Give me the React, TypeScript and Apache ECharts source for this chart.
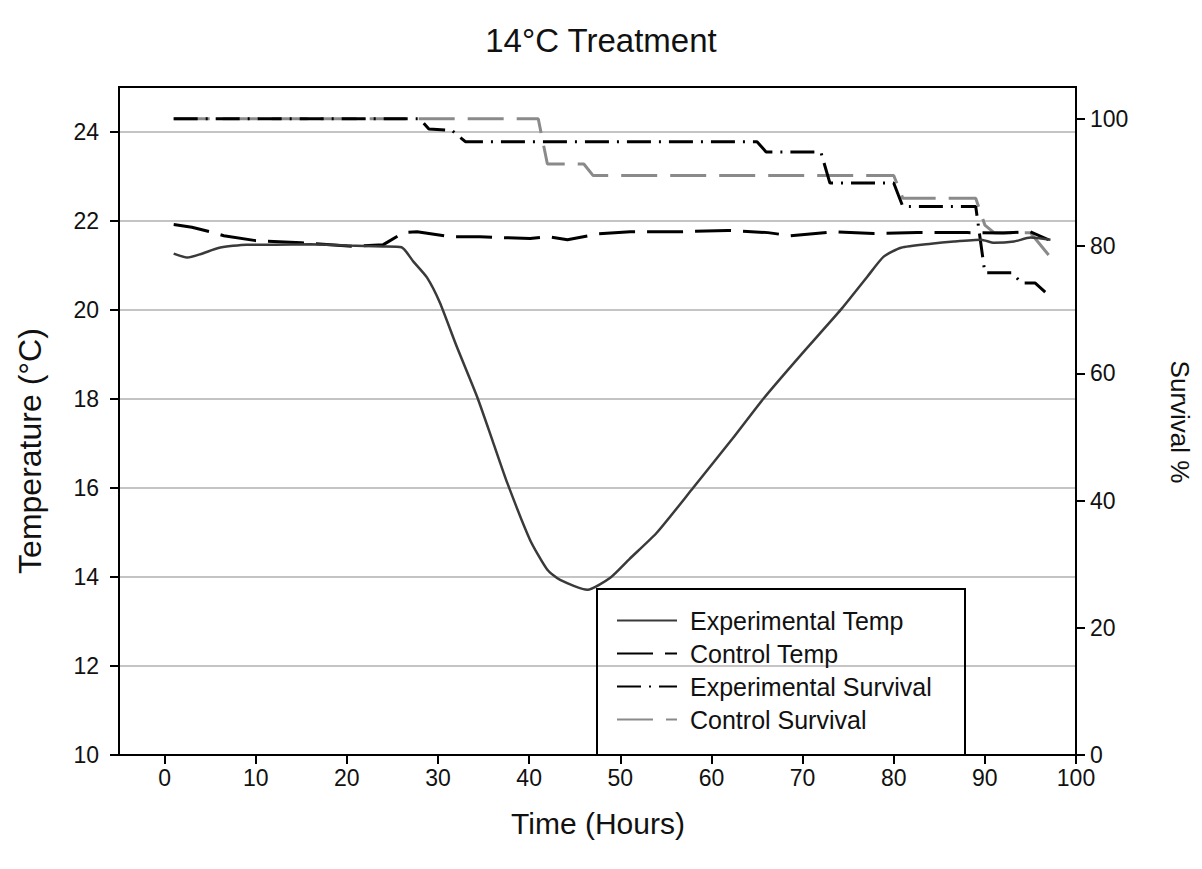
import React, { useEffect, useRef } from "react";
import * as echarts from "echarts";

const expTempTime = [1, 2.5, 4, 6, 9, 12, 16, 20, 24, 26, 27.3, 28.8, 30.2, 32, 34.3, 36, 37.6, 40.1, 42, 43.4, 46.4, 48.9, 51, 54, 58, 62.3, 65.7, 69.8, 74.2, 77.1, 78.9, 80.8, 84.1, 86.6, 89.6, 91, 93.2, 95, 97.2];
const expTempValue = [21.26, 21.17, 21.25, 21.39, 21.46, 21.46, 21.47, 21.44, 21.42, 21.4, 21.08, 20.72, 20.16, 19.2, 18.04, 17.05, 16.11, 14.83, 14.16, 13.93, 13.71, 13.98, 14.4, 14.99, 16.0, 17.1, 18.0, 18.98, 20.0, 20.74, 21.19, 21.39, 21.48, 21.53, 21.57, 21.5, 21.53, 21.62, 21.57];

const ctlTempTime = [1, 3, 5, 6.5, 10, 15, 20.7, 24, 26.2, 27.7, 31.3, 34.6, 36.5, 40.1, 42, 44.2, 47.5, 51.1, 56.6, 61.8, 66.2, 68.7, 73.4, 77.8, 82.6, 88.1, 92, 95, 97];
const ctlTempValue = [21.91, 21.85, 21.75, 21.66, 21.55, 21.5, 21.42, 21.46, 21.73, 21.75, 21.64, 21.64, 21.62, 21.6, 21.64, 21.57, 21.7, 21.75, 21.75, 21.78, 21.73, 21.66, 21.75, 21.71, 21.73, 21.73, 21.72, 21.75, 21.57];

const expSurvTime = [1, 28, 29, 31.5, 33, 65, 66, 72, 73, 80, 81, 89, 90, 93, 94, 95.5, 97];
const expSurvValue = [100, 100, 98.4, 98.2, 96.4, 96.4, 94.8, 94.8, 89.9, 89.9, 86.2, 86.2, 75.8, 75.8, 74.2, 74.2, 72.3];

const ctlSurvTime = [1, 41, 42, 46, 47, 80, 81, 89, 90, 91, 95, 97];
const ctlSurvValue = [100, 100, 92.9, 92.9, 91.1, 91.1, 87.5, 87.5, 83.3, 82.1, 82.1, 78.6];

const xTicks = [0, 10, 20, 30, 40, 50, 60, 70, 80, 90, 100];
const tempTicks = [10, 12, 14, 16, 18, 20, 22, 24];
const survTicks = [0, 20, 40, 60, 80, 100];

const zip = (t: number[], v: number[]) => t.map((x, i) => [x, v[i]]);

const FONT = "Liberation Sans, Arial, sans-serif";

export default function App() {
  const ref = useRef<HTMLDivElement>(null);
  useEffect(() => {
    if (!ref.current) return;
    const chart = echarts.init(ref.current, undefined, { renderer: "svg" });
    const axisLine = { show: true, onZero: false, lineStyle: { color: "#000", width: 2 } };
    const axisTick = { show: true, length: 9, lineStyle: { color: "#000", width: 2 } };
    const labelStyle = { color: "#111", fontSize: 23, fontFamily: FONT };
    chart.setOption({
      animation: false,
      backgroundColor: "#fff",
      title: {
        text: "14°C Treatment",
        left: "center",
        top: 24,
        padding: 0,
        textStyle: { fontSize: 33, fontWeight: "normal", color: "#111", fontFamily: FONT },
      },
      grid: {
        left: 119,
        right: 126,
        top: 87,
        bottom: 114,
        show: true,
        borderColor: "#000",
        borderWidth: 2,
        backgroundColor: "transparent",
      },
      legend: {
        orient: "vertical",
        left: 611,
        top: 603,
        itemWidth: 60,
        itemHeight: 16,
        itemGap: 8,
        itemStyle: { opacity: 0 },
        textStyle: { fontSize: 25, lineHeight: 25, color: "#111", fontFamily: FONT, padding: [0, 0, 0, 8] },
        data: ["Experimental Temp", "Control Temp", "Experimental Survival", "Control Survival"],
      },
      xAxis: {
        type: "value",
        min: -5,
        max: 100,
        axisLine,
        axisTick: { ...axisTick, customValues: xTicks },
        axisLabel: { ...labelStyle, margin: 11, customValues: xTicks },
        splitLine: { show: false },
      },
      yAxis: [
        {
          type: "value",
          min: 10,
          max: 25,
          interval: 2,
          position: "left",
          axisLine,
          axisTick: { ...axisTick, customValues: tempTicks },
          axisLabel: { ...labelStyle, margin: 20, customValues: tempTicks },
          splitLine: { show: true, lineStyle: { color: "#c4c4c4", width: 2 } },
        },
        {
          type: "value",
          min: 0,
          max: 105,
          interval: 20,
          position: "right",
          axisLine,
          axisTick: { ...axisTick, customValues: survTicks },
          axisLabel: { ...labelStyle, margin: 14, customValues: survTicks },
          splitLine: { show: false },
        },
      ],
      series: [
        {
          name: "Experimental Temp",
          type: "line",
          yAxisIndex: 0,
          symbol: "none",
          smooth: 0.2,
          data: zip(expTempTime, expTempValue),
          lineStyle: { color: "#3a3a3a", width: 2.5 },
          itemStyle: { color: "#3a3a3a" },
          z: 4,
        },
        {
          name: "Control Temp",
          type: "line",
          yAxisIndex: 0,
          symbol: "none",
          data: zip(ctlTempTime, ctlTempValue),
          lineStyle: { color: "#000", width: 3, type: [36, 12] },
          itemStyle: { color: "#000" },
          z: 3,
        },
        {
          name: "Experimental Survival",
          type: "line",
          yAxisIndex: 1,
          symbol: "none",
          data: zip(expSurvTime, expSurvValue),
          lineStyle: { color: "#000", width: 3, type: [24, 8, 2, 8] },
          itemStyle: { color: "#000" },
          z: 3,
        },
        {
          name: "Control Survival",
          type: "line",
          yAxisIndex: 1,
          symbol: "none",
          data: zip(ctlSurvTime, ctlSurvValue),
          lineStyle: { color: "#8a8a8a", width: 3, type: [36, 13] },
          itemStyle: { color: "#8a8a8a" },
          z: 2,
        },
      ],
      graphic: [
        {
          type: "text",
          x: 30,
          y: 451,
          rotation: Math.PI / 2,
          style: { text: "Temperature (°C)", fontSize: 32, fill: "#111", fontFamily: FONT, align: "center", verticalAlign: "middle" },
        },
        {
          type: "text",
          x: 1180,
          y: 422,
          rotation: -Math.PI / 2,
          style: { text: "Survival %", fontSize: 26, fill: "#111", fontFamily: FONT, align: "center", verticalAlign: "middle" },
        },
        {
          type: "text",
          x: 598,
          y: 823,
          style: { text: "Time (Hours)", fontSize: 30, fill: "#111", fontFamily: FONT, align: "center", verticalAlign: "middle" },
        },
        {
          type: "rect",
          shape: { x: 597, y: 589, width: 368, height: 166 },
          style: { fill: "none", stroke: "#000", lineWidth: 2 },
          z: 10,
        },
      ],
    });
    return () => chart.dispose();
  }, []);
  return <div ref={ref} style={{ width: 1202, height: 869, position: "absolute", left: 0, top: 0 }} />;
}
